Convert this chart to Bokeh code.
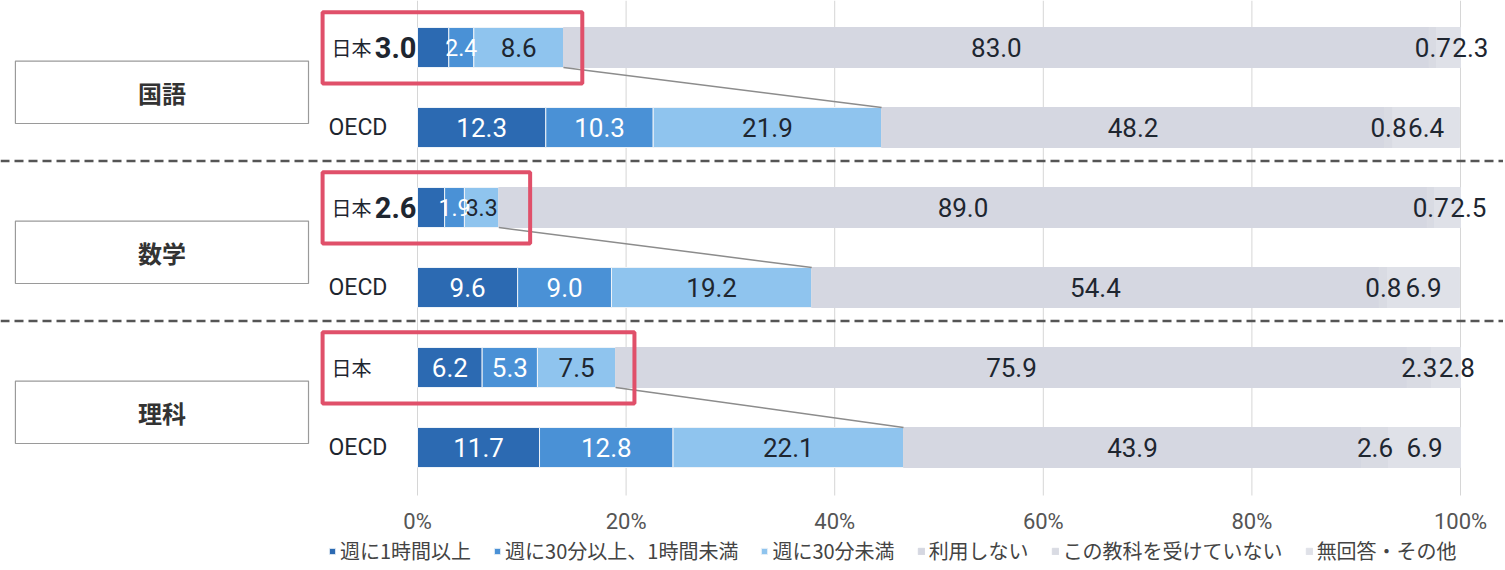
from bokeh.plotting import figure
from bokeh.models import ColumnDataSource, Range1d, Span, Legend, LegendItem
from bokeh.core.properties import value
from bokeh.embed import file_html
from bokeh.resources import INLINE

# ---------------- data ----------------
subjects = ["国語", "数学", "理科"]
groups = ["日本", "OECD"]
categories = ["週に1時間以上", "週に30分以上、1時間未満", "週に30分未満",
              "利用しない", "この教科を受けていない", "無回答・その他"]
kokugo_japan = [3.0, 2.4, 8.6, 83.0, 0.7, 2.3]
kokugo_oecd = [12.3, 10.3, 21.9, 48.2, 0.8, 6.4]
sugaku_japan = [2.6, 1.9, 3.3, 89.0, 0.7, 2.5]
sugaku_oecd = [9.6, 9.0, 19.2, 54.4, 0.8, 6.9]
rika_japan = [6.2, 5.3, 7.5, 75.9, 2.3, 2.8]
rika_oecd = [11.7, 12.8, 22.1, 43.9, 2.6, 6.9]
tick_values = [0, 20, 40, 60, 80, 100]
tick_labels = [f"{t}%" for t in tick_values]

# ---------------- style ----------------
colors = ["#2c6ab2", "#4a91d6", "#8fc4ee", "#d5d7e1", "#d9dbe3", "#dfe1e8"]
NUM_FONT = "Roboto"
JP_FONT = "Noto Sans CJK JP"
DARK = "#1e2630"

rows = [kokugo_japan, kokugo_oecd, sugaku_japan, sugaku_oecd, rika_japan, rika_oecd]
row_y = [2 * s + g for s in range(len(subjects)) for g in range(len(groups))]

PX = 10.43          # pixels per percent
X0 = 417            # frame pixel of 0 %
FRAME_W = 1503
FRAME_H = 568
ROW_PX = 80
x_start = -X0 / PX
x_end = (FRAME_W - X0) / PX
y_top = -47 / ROW_PX
y_bottom = y_top + FRAME_H / ROW_PX
grid_bottom = y_top + 495 / ROW_PX
tick_row = y_top + 521 / ROW_PX

p = figure(width=FRAME_W, height=FRAME_H,
           x_range=Range1d(x_start, x_end), y_range=Range1d(y_bottom, y_top),
           x_axis_location=None, y_axis_location=None,
           toolbar_location=None, output_backend="svg",
           min_border=0, outline_line_color=None)
p.background_fill_color = "white"
p.xgrid.visible = False
p.ygrid.visible = False

# percentage grid and tick labels
p.segment(x0=tick_values, y0=[y_top] * len(tick_values),
          x1=tick_values, y1=[grid_bottom] * len(tick_values),
          line_color="#d6d6d6", line_width=1)
p.text(x=tick_values, y=[tick_row] * len(tick_values), text=tick_labels,
       text_align="center", text_baseline="middle", text_font=value(NUM_FONT),
       text_font_size="22px", text_color="#555555")

# subject boxes
box_src = ColumnDataSource(dict(
    x=[-24.5] * len(subjects),
    y=[2 * s + 0.56 for s in range(len(subjects))],
    t=subjects))
p.rect(x="x", y="y", width=28.1, height=0.78, source=box_src,
       fill_color="white", line_color="#9a9a9a", line_width=1.2)
p.text(x="x", y="y", text="t", source=box_src, text_align="center",
       text_baseline="middle", text_font=value(JP_FONT), text_font_size="24px",
       text_font_style="bold", text_color="#333333")

# dashed separators
for s in range(len(subjects) - 1):
    p.add_layout(Span(location=2 * s + 1.42, dimension="width", line_color="#555555",
                      line_width=2.5, line_dash="9 5"))

# stacked bars
cols = [f"c{k}" for k in range(len(categories))]
bar_data = {"y": row_y}
for k, c in enumerate(cols):
    bar_data[c] = [r[k] for r in rows]
bar_src = ColumnDataSource(bar_data)
edge_colors = ["#eef3f8", "#eef3f8", "#eef3f8"] + colors[3:]
renderers = p.hbar_stack(cols, y="y", height=0.5, color=colors, source=bar_src,
                         line_color=edge_colors, line_width=1)

# group labels
jy = [y for y in row_y if y % 2 == 0]
oy_ = [y for y in row_y if y % 2 == 1]
p.text(x=[0] * len(jy), y=jy, text=[groups[0]] * len(jy), x_offset=-86,
       text_align="left", text_baseline="middle",
       text_font=value(JP_FONT), text_font_size="20px", text_color=DARK)
p.text(x=[0] * len(oy_), y=oy_, text=[groups[1]] * len(oy_), x_offset=-89,
       text_align="left", text_baseline="middle",
       text_font=value(NUM_FONT), text_font_size="23px", text_color=DARK)

# value labels
lx, ly, lt, lc, ls = [], [], [], [], []
ox, oy, ot = [], [], []
for r, y in zip(rows, row_y):
    cum = 0.0
    prev_center = None
    for k, v in enumerate(r):
        center = cum + v / 2
        txt = f"{v:.1f}"
        if k == 0 and v < 4:
            ox.append(0); oy.append(y); ot.append(txt)
        else:
            if k == len(r) - 1 and prev_center is not None and center - prev_center < 3.6:
                center = prev_center + 3.6
            lx.append(center); ly.append(y); lt.append(txt)
            lc.append("white" if k < 2 else DARK)
            ls.append("23px" if (k < 3 and v < 4) else "26px")
        prev_center = center
        cum += v
lab_src = ColumnDataSource(dict(x=lx, y=ly, t=lt, c=lc, s=ls))
p.text(x="x", y="y", text="t", text_color="c", text_font_size="s", source=lab_src,
       text_align="center", text_baseline="middle", text_font=value(NUM_FONT))
p.text(x=ox, y=oy, text=ot, x_offset=-1, text_color=DARK, text_align="right",
       text_baseline="middle", text_font=value(NUM_FONT), text_font_size="29px",
       text_font_style="bold")

# connectors and highlight boxes
cx0, cy0, cx1, cy1 = [], [], [], []
ql, qr, qt, qb = [], [], [], []
for s in range(len(subjects)):
    cj = sum(rows[2 * s][:3])
    co = sum(rows[2 * s + 1][:3])
    cx0.append(cj); cy0.append(2 * s + 0.25)
    cx1.append(co); cy1.append(2 * s + 1 - 0.25)
    ql.append(-9.1); qr.append(max(cj + 1.8, 10.8))
    qt.append(2 * s - 0.44); qb.append(2 * s + 0.45)
p.segment(x0=cx0, y0=cy0, x1=cx1, y1=cy1, line_color="#8c8c8c", line_width=1.5)
p.quad(left=ql, right=qr, top=qt, bottom=qb, fill_color=None,
       line_color="#e0506a", line_width=4)

# legend (inside the canvas, below the percentage labels)
legend = Legend(items=[LegendItem(label=c, renderers=[r]) for c, r in zip(categories, renderers)],
                orientation="horizontal", location=(328, 3))
legend.glyph_width = 8
legend.glyph_height = 8
legend.label_standoff = 4
legend.spacing = 22
legend.padding = 0
legend.margin = 0
legend.border_line_color = None
legend.background_fill_alpha = 0
legend.label_text_font = JP_FONT
legend.label_text_font_size = "20px"
legend.label_text_color = "#444444"
p.add_layout(legend, "center")

open("out.html", "w").write(file_html(p, INLINE))
